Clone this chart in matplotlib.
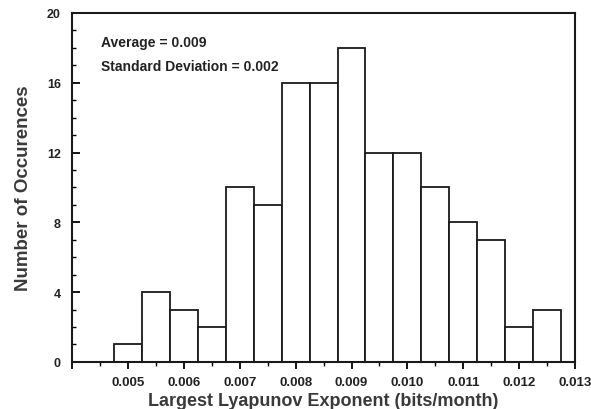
import numpy as np
import matplotlib
matplotlib.use("Agg")
import matplotlib.pyplot as plt
from matplotlib.ticker import MultipleLocator

# histogram of largest Lyapunov exponents, bin width 0.0005
bin_centers = [0.0050, 0.0055, 0.0060, 0.0065, 0.0070, 0.0075, 0.0080, 0.0085,
               0.0090, 0.0095, 0.0100, 0.0105, 0.0110, 0.0115, 0.0120, 0.0125]
counts = [1, 4, 3, 2, 10, 9, 16, 16, 18, 12, 12, 10, 8, 7, 2, 3]
bin_width = 0.0005

x_ticks = [0.004, 0.005, 0.006, 0.007, 0.008, 0.009, 0.010, 0.011, 0.012, 0.013]
x_tick_labels = ["", "0.005", "0.006", "0.007", "0.008", "0.009", "0.010", "0.011", "0.012", "0.013"]
y_ticks = [0, 4, 8, 12, 16, 20]

plt.rcParams['font.family'] = ['Liberation Sans', 'DejaVu Sans']

fig = plt.figure(figsize=(5.91, 4.10), dpi=100)
ax = fig.add_axes([0.122, 0.115, 0.851, 0.851])

ax.bar(bin_centers, counts, width=bin_width, facecolor="white", edgecolor="#1a1a1a", linewidth=1.3)

ax.set_xlim(0.004, 0.013)
ax.set_ylim(0, 20)
ax.set_xticks(x_ticks)
ax.set_xticklabels(x_tick_labels, fontsize=9.5, fontweight="bold", color="#222222")
ax.xaxis.set_minor_locator(MultipleLocator(0.0005))
ax.set_yticks(y_ticks)
ax.set_yticklabels([str(v) for v in y_ticks], fontsize=9, fontweight="bold", color="#222222")
ax.yaxis.set_minor_locator(MultipleLocator(1))

ax.tick_params(axis="x", which="major", direction="out", length=5, width=1.3, pad=5)
ax.tick_params(axis="x", which="minor", direction="out", length=3, width=1.0)
ax.tick_params(axis="y", which="major", direction="in", length=6, width=1.3, pad=8)
ax.tick_params(axis="y", which="minor", direction="in", length=3, width=1.0)
ax.tick_params(top=False, right=False)

for sp in ax.spines.values():
    sp.set_linewidth(1.5)
    sp.set_color("#1a1a1a")

ax.set_xlabel("Largest Lyapunov Exponent (bits/month)", fontsize=13, fontweight="bold",
              color="#3a3a3a", labelpad=3)
ax.set_ylabel("Number of Occurences", fontsize=13.5, fontweight="bold",
              color="#3a3a3a", labelpad=11)

ax.text(0.057, 0.917, "Average = 0.009", transform=ax.transAxes, fontsize=10,
        fontweight="bold", color="#222222", va="center")
ax.text(0.057, 0.848, "Standard Deviation = 0.002", transform=ax.transAxes, fontsize=10,
        fontweight="bold", color="#222222", va="center")

fig.savefig("out.png", dpi=100)
